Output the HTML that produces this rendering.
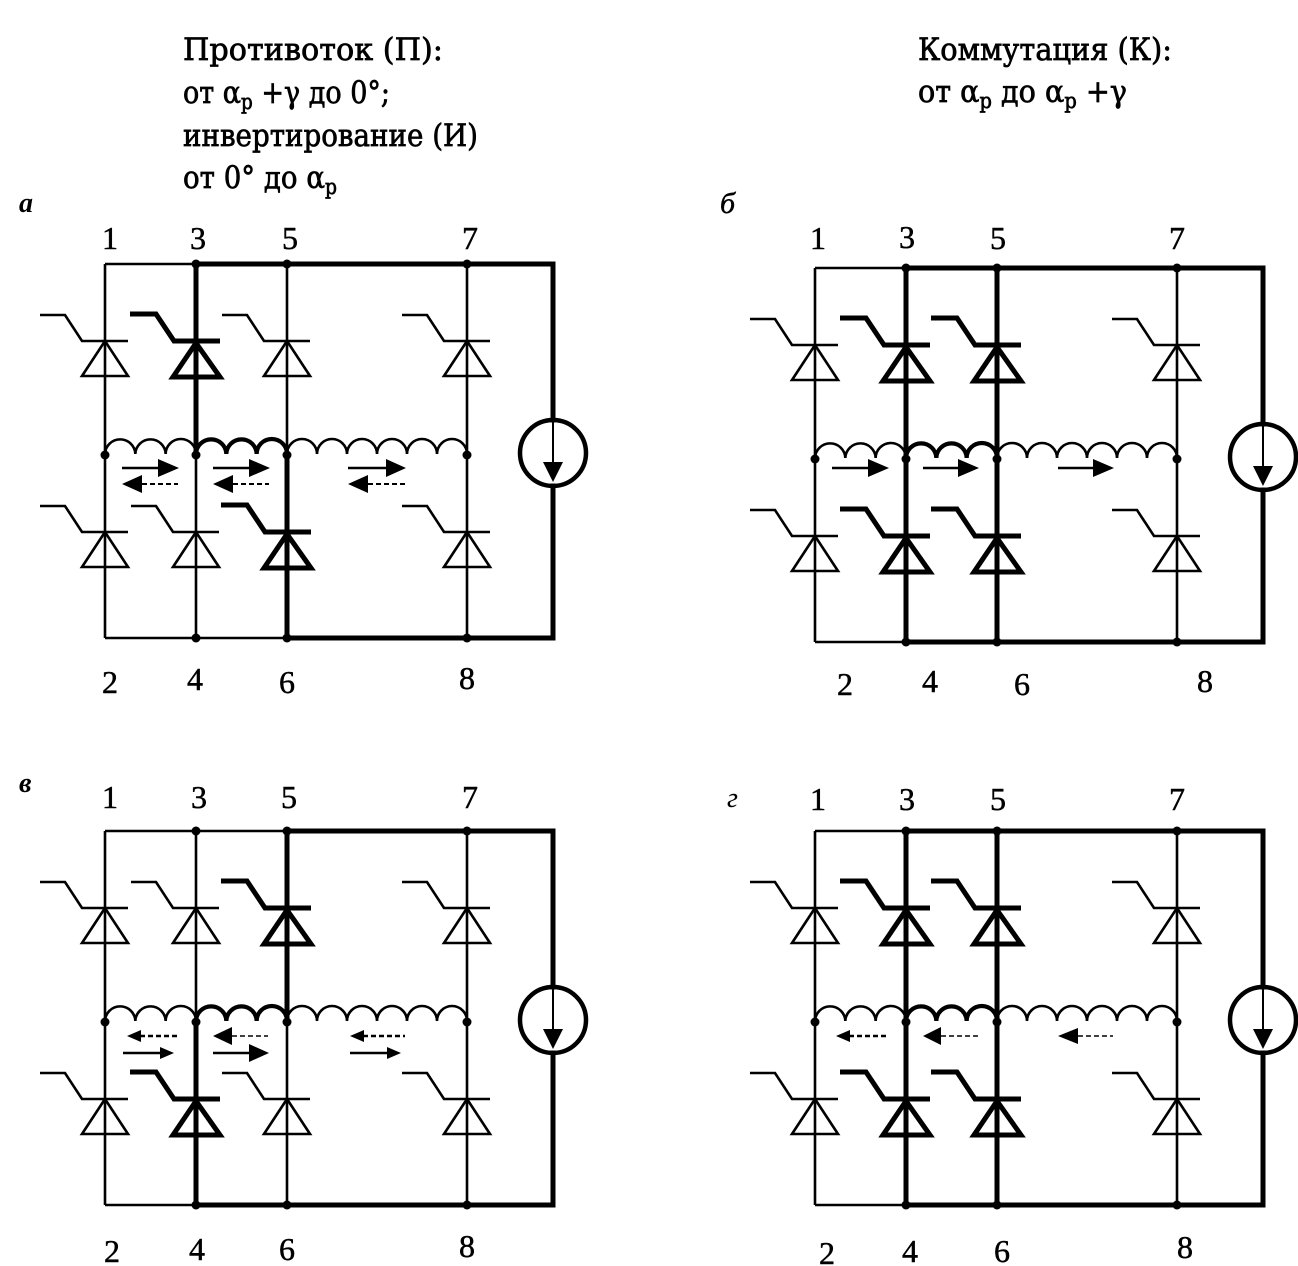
<!DOCTYPE html>
<html>
<head>
<meta charset="utf-8">
<style>
html,body{margin:0;padding:0;background:#fff;}
svg{display:block;}
text{font-family:"Liberation Serif","DejaVu Serif",serif;fill:#000;}
.h{font-family:"DejaVu Serif","Liberation Serif",serif;stroke:#000;stroke-width:0.7;}
.n{stroke:#000;stroke-width:0.5;}
</style>
</head>
<body>
<svg width="1298" height="1266" viewBox="0 0 1298 1266" xmlns="http://www.w3.org/2000/svg">
<defs>
  <g id="dt" fill="none" stroke="#000" stroke-width="2.6">
    <path d="M-65,-26 H-40 L-23,0 H23"/>
    <path d="M0,0 L-23,35 H23 Z" stroke-linejoin="miter"/>
  </g>
  <g id="dk" fill="none" stroke="#000" stroke-width="5">
    <path d="M-66,-27 H-40 L-22,0 H24"/>
    <path d="M0,2 L-23,36 H24 Z" stroke-linejoin="miter"/>
  </g>
  <g id="src">
    <circle cx="553" cy="453" r="33" fill="none" stroke="#000" stroke-width="4.5"/>
    <path d="M553,421 V466" stroke="#000" stroke-width="2"/>
    <polygon points="543,462 563,462 553,482" fill="#000"/>
  </g>
  <g id="ind-thin" fill="none" stroke="#000" stroke-width="2.6">
    <path d="M105,454 a15.17,15 0 0 1 30.33,0 a15.17,15 0 0 1 30.33,0 a15.17,15 0 0 1 30.34,0"/>
    <path d="M287,454 a15,15 0 0 1 30,0 a15,15 0 0 1 30,0 a15,15 0 0 1 30,0 a15,15 0 0 1 30,0 a15,15 0 0 1 30,0 a15,15 0 0 1 30,0"/>
  </g>
  <path id="ind-thick" fill="none" stroke="#000" stroke-width="4.2" d="M196,454 a15.17,15 0 0 1 30.33,0 a15.17,15 0 0 1 30.33,0 a15.17,15 0 0 1 30.34,0"/>
  <g id="dots" fill="#000">
    <circle cx="196" cy="264" r="4.5"/><circle cx="287" cy="264" r="4.5"/><circle cx="467" cy="264" r="4.5"/>
    <circle cx="196" cy="638" r="4.5"/><circle cx="287" cy="638" r="4.5"/><circle cx="467" cy="638" r="4.5"/>
    <circle cx="105" cy="455" r="4.5"/><circle cx="196" cy="455" r="4.5"/><circle cx="287" cy="455" r="4.5"/><circle cx="467" cy="455" r="4.5"/>
  </g>
</defs>

<!-- Header text -->
<text class="h" x="183" y="60" font-size="31" textLength="260" lengthAdjust="spacingAndGlyphs">Противоток (П):</text>
<text class="h" x="183" y="103" font-size="31" textLength="207" lengthAdjust="spacingAndGlyphs">от α<tspan font-size="21" dy="6">p</tspan><tspan dy="-6"> +γ до 0°;</tspan></text>
<text class="h" x="183" y="146" font-size="31" textLength="295" lengthAdjust="spacingAndGlyphs">инвертирование (И)</text>
<text class="h" x="183" y="188" font-size="31" textLength="154" lengthAdjust="spacingAndGlyphs">от 0° до α<tspan font-size="21" dy="6">p</tspan></text>

<text class="h" x="918" y="60" font-size="31" textLength="254" lengthAdjust="spacingAndGlyphs">Коммутация (К):</text>
<text class="h" x="918" y="102" font-size="31" textLength="209" lengthAdjust="spacingAndGlyphs">от α<tspan font-size="21" dy="6">p</tspan><tspan dy="-6"> до α</tspan><tspan font-size="21" dy="6">p</tspan><tspan dy="-6"> +γ</tspan></text>

<!-- Panel letters -->
<text x="19" y="212" font-size="28" font-style="italic" font-weight="bold">а</text>
<text x="720" y="213" font-size="30" font-style="italic" class="n">б</text>
<text x="19" y="792" font-size="28" font-style="italic" font-weight="bold">в</text>
<text x="727" y="807" font-size="28" font-style="italic">г</text>

<!-- Number labels -->
<g font-size="32" text-anchor="middle" class="n">
  <text class="n" x="110" y="249">1</text><text class="n" x="198" y="249">3</text><text class="n" x="290" y="249">5</text><text class="n" x="470" y="249">7</text>
  <text class="n" x="110" y="693">2</text><text class="n" x="195" y="690">4</text><text class="n" x="287" y="693">6</text><text class="n" x="467" y="689">8</text>

  <text class="n" x="818" y="249">1</text><text class="n" x="907" y="248">3</text><text class="n" x="998" y="249">5</text><text class="n" x="1177" y="249">7</text>
  <text class="n" x="845" y="695">2</text><text class="n" x="930" y="692">4</text><text class="n" x="1022" y="695">6</text><text class="n" x="1205" y="692">8</text>

  <text class="n" x="110" y="808">1</text><text class="n" x="199" y="808">3</text><text class="n" x="289" y="808">5</text><text class="n" x="470" y="808">7</text>
  <text class="n" x="112" y="1262">2</text><text class="n" x="197" y="1260">4</text><text class="n" x="287" y="1260">6</text><text class="n" x="467" y="1257">8</text>

  <text class="n" x="818" y="810">1</text><text class="n" x="907" y="810">3</text><text class="n" x="998" y="810">5</text><text class="n" x="1177" y="810">7</text>
  <text class="n" x="827" y="1264">2</text><text class="n" x="910" y="1262">4</text><text class="n" x="1002" y="1262">6</text><text class="n" x="1185" y="1258">8</text>
</g>

<!-- Panel а -->
<g>
  <path fill="none" stroke="#000" stroke-width="2.6" d="M105,264 V638 M105,264 H196 M287,264 V454 M467,264 V638 M105,638 H287 M196,454 V638"/>
  <path fill="none" stroke="#000" stroke-width="5" stroke-linecap="square" d="M196,264 H553 V420 M553,486 V638 H287 M196,264 V454 M287,454 V638"/>
  <use href="#ind-thin"/><use href="#ind-thick"/>
  <use href="#dt" x="105" y="341"/><use href="#dk" x="196" y="341"/><use href="#dt" x="287" y="341"/><use href="#dt" x="467" y="341"/>
  <use href="#dt" x="105" y="532"/><use href="#dt" x="196" y="532"/><use href="#dk" x="287" y="532"/><use href="#dt" x="467" y="532"/>
  <use href="#src"/><use href="#dots"/>
  <g stroke="#000" stroke-width="2.5">
    <path d="M122,468 H160 M213,468 H251 M348,468 H387"/>
    <path d="M142,484 H178 M233,484 H269 M368,484 H405" stroke-dasharray="5,3" stroke-width="2"/>
  </g>
  <g fill="#000">
    <polygon points="158,459 179,468 158,477"/><polygon points="249,459 270,468 249,477"/><polygon points="386,459 406,468 386,477"/>
    <polygon points="122,484 142,475 142,493"/><polygon points="213,484 233,475 233,493"/><polygon points="348,484 368,475 368,493"/>
  </g>
</g>

<!-- Panel б -->
<g transform="translate(710,4)">
  <path fill="none" stroke="#000" stroke-width="2.6" d="M105,264 V638 M105,264 H196 M105,638 H196 M467,264 V638"/>
  <path fill="none" stroke="#000" stroke-width="5" stroke-linecap="square" d="M196,264 H553 V420 M553,486 V638 H196 M196,264 V638 M287,264 V638"/>
  <use href="#ind-thin"/><use href="#ind-thick"/>
  <use href="#dt" x="105" y="341"/><use href="#dk" x="196" y="341"/><use href="#dk" x="287" y="341"/><use href="#dt" x="467" y="341"/>
  <use href="#dt" x="105" y="532"/><use href="#dk" x="196" y="532"/><use href="#dk" x="287" y="532"/><use href="#dt" x="467" y="532"/>
  <use href="#src"/><use href="#dots"/>
  <path stroke="#000" stroke-width="2.5" d="M122,464 H160 M213,464 H250 M348,464 H385"/>
  <g fill="#000">
    <polygon points="158,455 179,464 158,473"/><polygon points="248,455 269,464 248,473"/><polygon points="383,455 404,464 383,473"/>
  </g>
</g>

<!-- Panel в -->
<g transform="translate(0,567)">
  <path fill="none" stroke="#000" stroke-width="2.6" d="M105,264 V638 M105,264 H287 M196,264 V454 M287,454 V638 M467,264 V638 M105,638 H196"/>
  <path fill="none" stroke="#000" stroke-width="5" stroke-linecap="square" d="M287,264 H553 V420 M553,486 V638 H196 M287,264 V454 M196,454 V638"/>
  <use href="#ind-thin"/><use href="#ind-thick"/>
  <use href="#dt" x="105" y="341"/><use href="#dt" x="196" y="341"/><use href="#dk" x="287" y="341"/><use href="#dt" x="467" y="341"/>
  <use href="#dt" x="105" y="532"/><use href="#dk" x="196" y="532"/><use href="#dt" x="287" y="532"/><use href="#dt" x="467" y="532"/>
  <use href="#src"/><use href="#dots"/>
  <g stroke="#000">
    <path d="M140,469 H178 M363,469 H405" stroke-dasharray="5,3" stroke-width="2.4"/>
    <path d="M232,469 H268" stroke-dasharray="5,3" stroke-width="1.6"/>
    <path d="M123,486 H162 M213,486 H250 M350,486 H388" stroke-width="2.5"/>
  </g>
  <g fill="#000">
    <polygon points="127,469 141,463 141,475"/><polygon points="213,469 232,460 232,478"/><polygon points="350,469 364,463 364,475"/>
    <polygon points="160,480 174,486 160,492"/><polygon points="249,477 269,486 249,495"/><polygon points="387,480 401,486 387,492"/>
  </g>
</g>

<!-- Panel г -->
<g transform="translate(710,567)">
  <path fill="none" stroke="#000" stroke-width="2.6" d="M105,264 V638 M105,264 H196 M105,638 H196 M467,264 V638"/>
  <path fill="none" stroke="#000" stroke-width="5" stroke-linecap="square" d="M196,264 H553 V420 M553,486 V638 H196 M196,264 V638 M287,264 V638"/>
  <use href="#ind-thin"/><use href="#ind-thick"/>
  <use href="#dt" x="105" y="341"/><use href="#dk" x="196" y="341"/><use href="#dk" x="287" y="341"/><use href="#dt" x="467" y="341"/>
  <use href="#dt" x="105" y="532"/><use href="#dk" x="196" y="532"/><use href="#dk" x="287" y="532"/><use href="#dt" x="467" y="532"/>
  <use href="#src"/><use href="#dots"/>
  <g stroke="#000">
    <path d="M139,469 H177" stroke-dasharray="5,3" stroke-width="2.4"/>
    <path d="M231,469 H269 M368,469 H403" stroke-dasharray="5,3" stroke-width="1.6"/>
  </g>
  <g fill="#000">
    <polygon points="126,469 140,463 140,475"/><polygon points="213,469 231,460 231,478"/><polygon points="348,469 368,461 368,477"/>
  </g>
</g>
</svg>
</body>
</html>
